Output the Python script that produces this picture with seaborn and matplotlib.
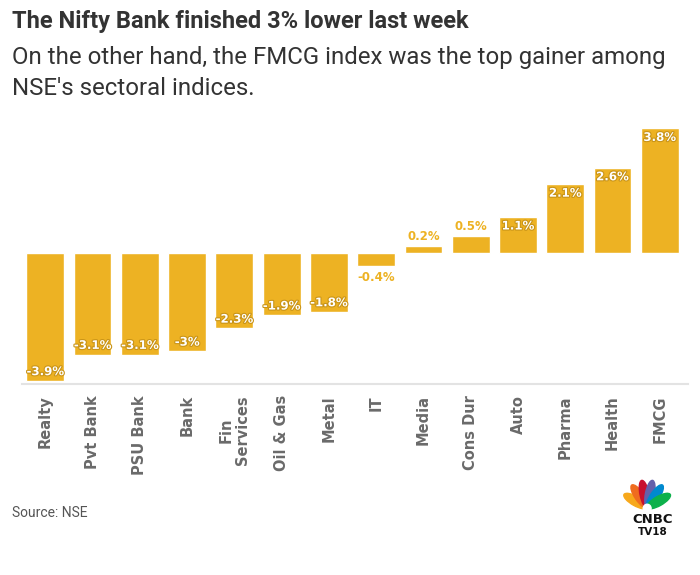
import matplotlib
matplotlib.use('Agg')
import numpy as np
import pandas as pd
import seaborn as sns
import matplotlib.pyplot as plt
import matplotlib.patheffects as pe
from matplotlib.patches import Ellipse

# data
sectors = ['Realty', 'Pvt Bank', 'PSU Bank', 'Bank', 'Fin\nServices', 'Oil & Gas', 'Metal',
           'IT', 'Media', 'Cons Dur', 'Auto', 'Pharma', 'Health', 'FMCG']
change = [-3.9, -3.1, -3.1, -3.0, -2.3, -1.9, -1.8, -0.4, 0.2, 0.5, 1.1, 2.1, 2.6, 3.8]
labels = ['-3.9%', '-3.1%', '-3.1%', '-3%', '-2.3%', '-1.9%', '-1.8%', '-0.4%',
          '0.2%', '0.5%', '1.1%', '2.1%', '2.6%', '3.8%']

df = pd.DataFrame({'sector': sectors, 'change': change, 'label': labels})

gold = '#EDB223'
sns.set_style('white')
plt.rcParams['font.family'] = ['DejaVu Sans']

fig = plt.figure(figsize=(7, 5.75), dpi=100)
ax = fig.add_axes([0.031, 0.332, 0.952, 0.445])

sns.barplot(data=df, x='sector', y='change', color=gold, saturation=1, width=0.8, ax=ax)

ax.set_ylim(-4.0, 3.8)
ax.set_xlim(-0.5, 13.6)
ax.set_xlabel('')
ax.set_ylabel('')
ax.set_yticks([])
for s in ['top', 'right', 'left']:
    ax.spines[s].set_visible(False)
ax.spines['bottom'].set_color('#e3e3e3')
ax.spines['bottom'].set_linewidth(1.5)
ax.tick_params(axis='x', length=5, color='#dddddd', width=1, pad=3)
ax.set_xticks(range(len(sectors)))
ax.set_xticklabels(sectors, rotation=90, fontsize=10.5, fontweight='bold', color='#6a6a6a',
                   va='top', linespacing=1.1)

# value labels
for i, (v, lab) in enumerate(zip(df['change'], df['label'])):
    if abs(v) >= 1:
        y = v - 0.28 if v > 0 else v + 0.28
        ax.text(i, y, lab, ha='center', va='center', fontsize=8.5, fontweight='bold',
                color='white', path_effects=[pe.withStroke(linewidth=1.6, foreground='#c99418')])
    else:
        y = v + 0.3 if v > 0 else v - 0.35
        ax.text(i, y, lab, ha='center', va='center', fontsize=8.5, fontweight='bold', color=gold)

fig.text(0.017, 0.963, 'The Nifty Bank finished 3% lower last week', fontsize=17,
         fontweight='bold', color='#333333', va='center', family='Roboto')
fig.text(0.017, 0.900, 'On the other hand, the FMCG index was the top gainer among', fontsize=17.3,
         color='#333333', va='center', family='Roboto')
fig.text(0.017, 0.846, "NSE's sectoral indices.", fontsize=17.3,
         color='#333333', va='center', family='Roboto')
fig.text(0.017, 0.107, 'Source: NSE', fontsize=10, color='#555555', va='center', family='Roboto')

# CNBC TV18 logo
lax = fig.add_axes([0.887, 0.11, 0.075, 0.058])
lax.set_xlim(-1, 1)
lax.set_ylim(-0.1, 1.1)
lax.axis('off')
feathers = [('#f7a81b', -62), ('#ef6c1f', -36), ('#c8102e', -12), ('#6460aa', 12),
            ('#0089cf', 36), ('#0db14b', 62)]
for col, ang in feathers:
    r = 0.5
    cx = r * np.sin(np.radians(ang))
    cy = 0.05 + r * np.cos(np.radians(ang))
    lax.add_patch(Ellipse((cx, cy), 0.34, 1.0, angle=-ang, color=col))
lax.add_patch(Ellipse((0, 0.02), 0.3, 0.3, color='white'))
fig.text(0.932, 0.097, 'CNBC', fontsize=9.5, fontweight='bold', color='#111111', ha='center', va='center')
fig.text(0.932, 0.074, 'TV18', fontsize=7.5, fontweight='bold', color='#111111', ha='center', va='center')

fig.savefig('out.png', dpi=100)
